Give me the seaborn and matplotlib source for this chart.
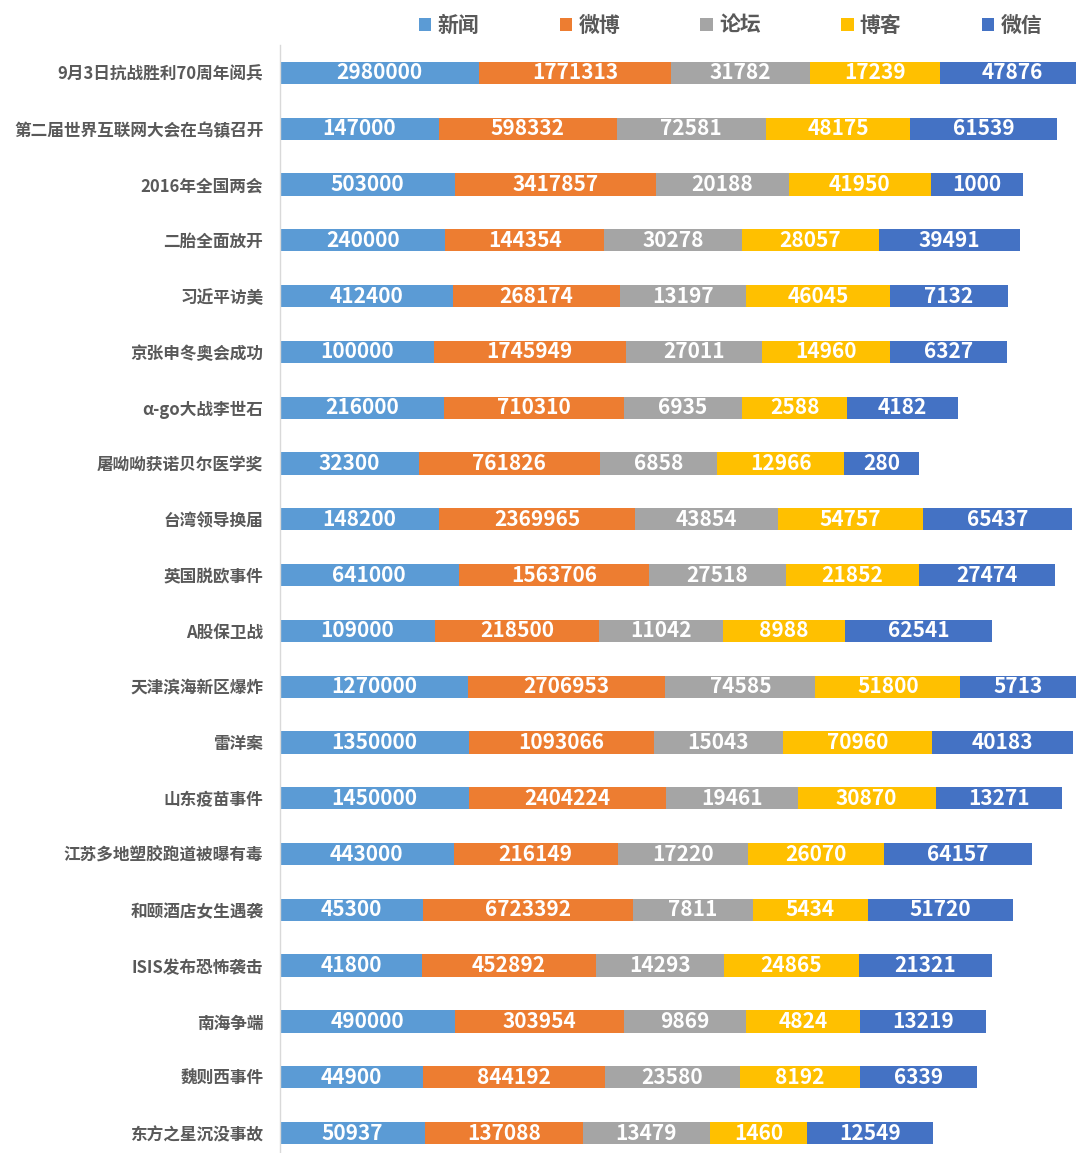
import numpy as np
import pandas as pd
import matplotlib
matplotlib.use('Agg')
import matplotlib.pyplot as plt
from matplotlib.patches import Patch
import seaborn as sns

# data
categories = ['9月3日抗战胜利70周年阅兵', '第二届世界互联网大会在乌镇召开', '2016年全国两会',
              '二胎全面放开', '习近平访美', '京张申冬奥会成功', 'α-go大战李世石',
              '屠呦呦获诺贝尔医学奖', '台湾领导换届', '英国脱欧事件', 'A股保卫战',
              '天津滨海新区爆炸', '雷洋案', '山东疫苗事件', '江苏多地塑胶跑道被曝有毒',
              '和颐酒店女生遇袭', 'ISIS发布恐怖袭击', '南海争端', '魏则西事件', '东方之星沉没事故']
news = [2980000, 147000, 503000, 240000, 412400, 100000, 216000, 32300, 148200, 641000,
        109000, 1270000, 1350000, 1450000, 443000, 45300, 41800, 490000, 44900, 50937]
weibo = [1771313, 598332, 3417857, 144354, 268174, 1745949, 710310, 761826, 2369965, 1563706,
         218500, 2706953, 1093066, 2404224, 216149, 6723392, 452892, 303954, 844192, 137088]
forum = [31782, 72581, 20188, 30278, 13197, 27011, 6935, 6858, 43854, 27518,
         11042, 74585, 15043, 19461, 17220, 7811, 14293, 9869, 23580, 13479]
blog = [17239, 48175, 41950, 28057, 46045, 14960, 2588, 12966, 54757, 21852,
        8988, 51800, 70960, 30870, 26070, 5434, 24865, 4824, 8192, 1460]
wechat = [47876, 61539, 1000, 39491, 7132, 6327, 4182, 280, 65437, 27474,
          62541, 5713, 40183, 13271, 64157, 51720, 21321, 13219, 6339, 12549]

series_names = ['新闻', '微博', '论坛', '博客', '微信']
colors = ['#5B9BD5', '#ED7D31', '#A5A5A5', '#FFC000', '#4472C4']

df = pd.DataFrame({'事件': categories, '新闻': news, '微博': weibo,
                   '论坛': forum, '博客': blog, '微信': wechat})

# segment lengths follow log10 of the value
logs = np.log10(df[series_names].astype(float))
cum = logs.cumsum(axis=1)

sns.set_style('white')
plt.rcParams['font.family'] = ['Noto Sans CJK SC', 'DejaVu Sans']

fig = plt.figure(figsize=(10.76, 11.53), dpi=100)
ax = fig.add_axes([280 / 1076, 0, 1 - 280 / 1076, 1 - 45 / 1153])

# draw cumulative bars back to front so each segment shows
for name, col in reversed(list(zip(series_names, colors))):
    sns.barplot(x=cum[name], y=df['事件'], color=col, orient='h', width=0.4,
                linewidth=0, saturation=1, ax=ax)

# white value labels centred in each segment
for i in range(len(categories)):
    left = 0
    for name in series_names:
        right = cum.loc[i, name]
        mid = (left + right) / 2
        ax.text(mid, i, str(df.loc[i, name]), ha='center', va='center',
                color='white', fontsize=15, fontweight='bold')
        left = right

ax.set_xlim(0, (1076 - 280) / 30.75)
ax.set_ylim(19 + 20 / 55.9, -0.5)
ax.set_xlabel('')
ax.set_ylabel('')
ax.set_xticks([])
for s in ['top', 'right', 'bottom']:
    ax.spines[s].set_visible(False)
ax.spines['left'].set_color('#D9D9D9')
ax.spines['left'].set_linewidth(1)
ax.tick_params(axis='y', which='major', length=0, pad=12, labelsize=12, labelcolor='#595959')
for lab in ax.get_yticklabels():
    lab.set_fontweight('bold')
ax.set_yticks(np.arange(len(categories)) - 0.5, minor=True)
ax.tick_params(axis='y', which='minor', length=6, color='#D9D9D9', width=1)

handles = [Patch(facecolor=c, edgecolor='none', label=n) for n, c in zip(series_names, colors)]
fig.legend(handles=handles, loc='center', bbox_to_anchor=(0.679, 1 - 25 / 1153), ncol=5,
           frameon=False, handlelength=0.6, handleheight=0.6, handletextpad=0.3,
           columnspacing=3.85, prop={'size': 15, 'weight': 'bold'}, labelcolor='#595959')

fig.savefig('out.png', dpi=100)
